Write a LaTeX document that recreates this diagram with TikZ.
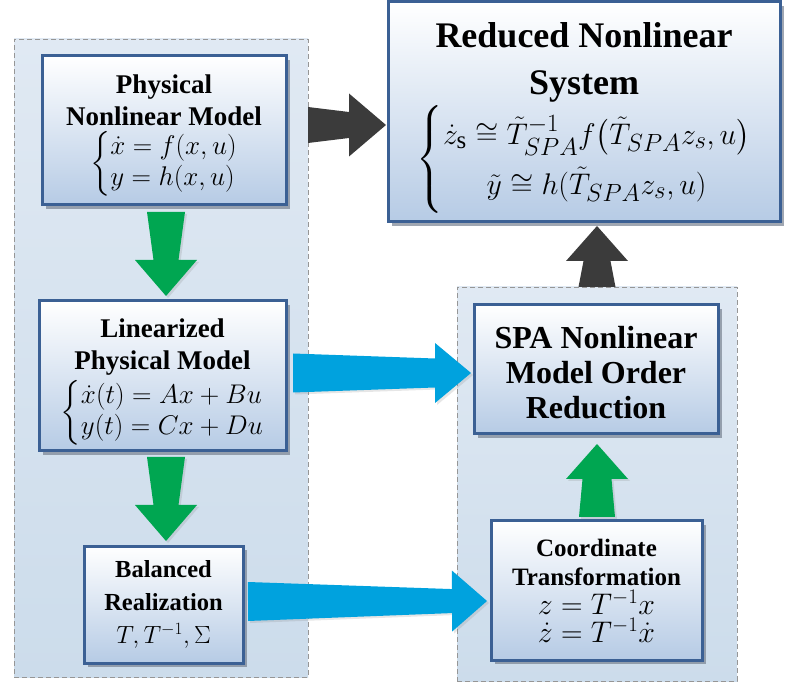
\documentclass[tikz,border=0pt]{standalone}
\usepackage{amsmath}
\usepackage{fontspec}
\setmainfont{Liberation Serif}
\usetikzlibrary{positioning,calc,shadows}
\definecolor{boxline}{RGB}{59,96,148}
\definecolor{boxblue}{RGB}{182,203,229}
\definecolor{boxshade}{RGB}{120,130,145}
\definecolor{paneltop}{RGB}{224,233,243}
\definecolor{panelbot}{RGB}{204,220,235}
\definecolor{panelline}{RGB}{150,150,150}
\definecolor{arrowgreen}{RGB}{0,166,81}
\definecolor{arrowblue}{RGB}{0,162,222}
\definecolor{arrowdark}{RGB}{59,59,59}
\newcommand\boxfont[2]{\fontsize{#1}{#2}\selectfont\bfseries}
\newcommand\bigmath[2]{\scalebox{#1}{$#2$}}
\newcommand\lowerby[1]{\rule{0pt}{#1}}
% style, tail, tip, tail half width, neck half width, head half width, head length
\newcommand\fatarrow[7]{%
  \coordinate (neck) at ($(#3)!#7!(#2)$);
  \fill[#1] ($(#2)!#4!90:(#3)$) -- ($(neck)!#5!90:(#3)$) -- ($(neck)!#6!90:(#3)$) -- (#3)
    -- ($(neck)!#6!-90:(#3)$) -- ($(neck)!#5!-90:(#3)$) -- ($(#2)!#4!-90:(#3)$) -- cycle;}
\tikzset{%
block/.style={draw=boxline,line width=3pt,top color=white,bottom color=boxblue,align=center,inner sep=0pt,outer sep=0pt,
  drop shadow={shadow xshift=4pt,shadow yshift=-4pt,fill=boxshade,opacity=0.7}},
panel/.style={draw=panelline,dash pattern=on 5pt off 3pt,line width=0.9pt,top color=paneltop,bottom color=panelbot,inner sep=0pt,outer sep=0pt},
greenarrow/.style={fill=arrowgreen,drop shadow={shadow xshift=2pt,shadow yshift=-2pt,opacity=0.2}},
bluearrow/.style={fill=arrowblue,drop shadow={shadow xshift=2pt,shadow yshift=-2pt,opacity=0.2}},
darkarrow/.style={fill=arrowdark}
}

\begin{document}
\begin{tikzpicture}[x=1pt,y=-1pt]
  \useasboundingbox (0,0) rectangle (785,684);

  \node[panel,minimum width=294pt,minimum height=638pt] (leftbg) at (161,358) {};
  \node[panel,minimum width=280pt,minimum height=394pt] (rightbg) at (597,484) {};

  \node[block,minimum width=392pt,minimum height=220pt,font={\boxfont{36}{47}}] (reduced) at (584,112)
    {\lowerby{37pt}Reduced Nonlinear\\System\\[2pt]
     {\fontsize{24.88}{38}\selectfont\renewcommand\arraystretch{1.1}%
     \bigmath{1.2}{\left\{\begin{array}{@{}c@{}}
       \dot{z}_{\mathrm{s}}\cong\tilde{T}_{SPA}^{-1}f\big(\tilde{T}_{SPA}z_s,u\big)\\
       \tilde{y}\cong h(\tilde{T}_{SPA}z_s,u)
     \end{array}\right.}}};

  \node[block,minimum width=244pt,minimum height=149pt,font={\boxfont{27}{32}}] (phys) at (164,130.5)
    {\lowerby{29pt}Physical\\Nonlinear Model\\[4pt]
     {\renewcommand\arraystretch{0.9}%
     \bigmath{1.085}{\left\{\begin{array}{@{}l@{}}\dot{x}=f(x,u)\\ y=h(x,u)\end{array}\right.}}};

  \node[block,minimum width=247pt,minimum height=150pt,font={\boxfont{27}{32}}] (lin) at (162.5,376)
    {\lowerby{30pt}Linearized\\Physical Model\\[4pt]
     {\renewcommand\arraystretch{0.9}%
     \bigmath{1.085}{\left\{\begin{array}{@{}l@{}}\dot{x}(t)=Ax+Bu\\ y(t)=Cx+Du\end{array}\right.}}};

  \node[block,minimum width=159pt,minimum height=117pt,font={\boxfont{24.5}{33}}] (bal) at (163.5,604.5)
    {Balanced\\Realization\\$T,T^{-1},\Sigma$};

  \node[block,minimum width=244pt,minimum height=129pt,font={\boxfont{32}{35}}] (spa) at (596,369.5)
    {\lowerby{28pt}SPA Nonlinear\\Model Order\\Reduction};

  \node[block,minimum width=211pt,minimum height=139pt,font={\boxfont{25}{29}}] (coord) at (596.5,590.5)
    {Coordinate\\Transformation\\\bigmath{1.2}{z=T^{-1}x}\\[-1pt]\bigmath{1.2}{\dot{z}=T^{-1}\dot{x}}};

  \coordinate (g1s) at ($(phys.south)+(2,7)$);
  \coordinate (g1e) at ($(lin.north)+(3.5,-5)$);
  \coordinate (g2s) at ($(lin.south)+(3.5,6)$);
  \coordinate (g2e) at ($(bal.north)+(2.5,-5)$);
  \coordinate (g3s) at ($(coord.north)+(0.5,-4)$);
  \coordinate (g3e) at ($(spa.south)+(1,10)$);
  \coordinate (d1s) at ($(leftbg.east |- phys.center)+(0,-5.5)$);
  \coordinate (d1e) at ($(reduced.west |- phys.center)+(-2,-5.5)$);
  \coordinate (d2s) at (rightbg.north);
  \coordinate (d2e) at ($(reduced.south -| rightbg.north)+(0,4)$);
  \coordinate (b1s) at ($(lin.east)+(7,-3)$);
  \coordinate (b1e) at ($(spa.west)+(-3,3.5)$);
  \coordinate (b2s) at ($(bal.east)+(5,-3)$);
  \coordinate (b2e) at ($(coord.west)+(-4,10.5)$);

  \fatarrow{greenarrow}{g1s}{g1e}{19pt}{12.5pt}{31pt}{36pt}
  \fatarrow{greenarrow}{g2s}{g2e}{19pt}{12.5pt}{31pt}{36pt}
  \fatarrow{greenarrow}{g3s}{g3e}{18pt}{14.5pt}{31pt}{35pt}
  \fatarrow{darkarrow}{d1s}{d1e}{18pt}{13pt}{31.5pt}{37pt}
  \fatarrow{darkarrow}{d2s}{d2e}{18.5pt}{13.5pt}{31pt}{35pt}
  \fatarrow{bluearrow}{b1s}{b1e}{19.5pt}{14.5pt}{30pt}{36pt}
  \fatarrow{bluearrow}{b2s}{b2e}{19.5pt}{12pt}{30.5pt}{35pt}
\end{tikzpicture}
\end{document}
